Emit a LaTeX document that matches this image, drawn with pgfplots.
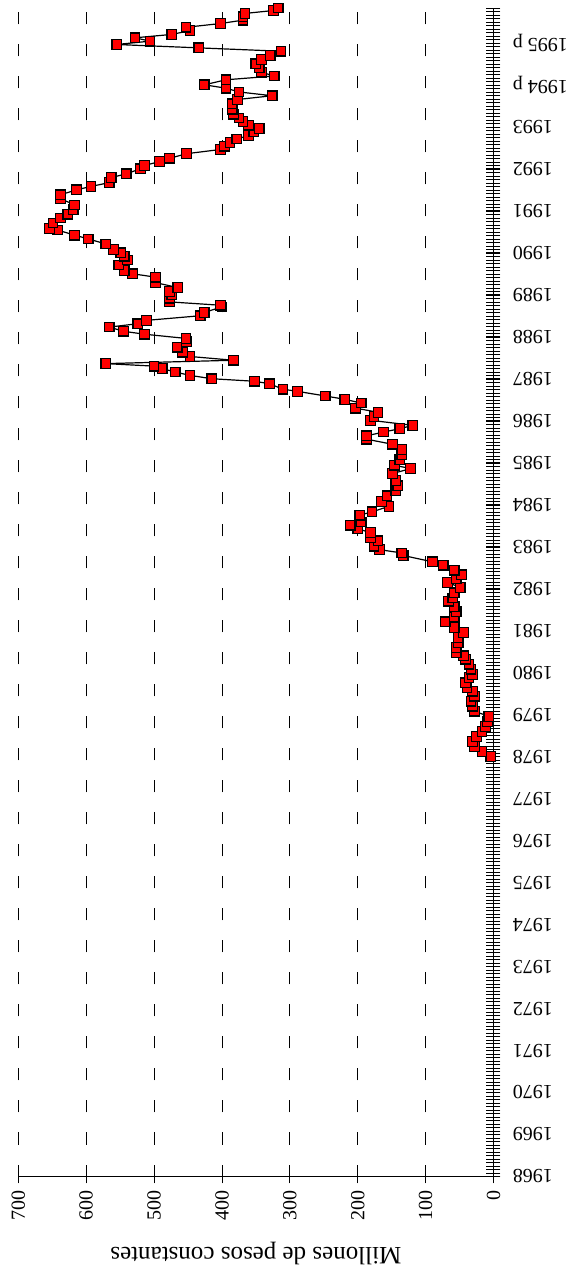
\documentclass[border=0pt]{standalone}
\usepackage{fontspec}
\setmainfont{Liberation Serif}
\usepackage{pgfplots}
\pgfplotsset{compat=1.18}

\pgfplotstableread{
t v
1978.00 4
1978.12 17
1978.24 28
1978.36 31
1978.48 25
1978.60 17
1978.72 12
1978.84 9
1978.96 7
1979.08 28
1979.20 31
1979.32 33
1979.44 28
1979.56 31
1979.64 39
1979.76 41
1979.88 36
1979.96 31
1980.08 33
1980.20 36
1980.32 41
1980.40 44
1980.48 55
1980.60 55
1980.72 52
1980.84 52
1980.96 44
1981.08 58
1981.21 71
1981.33 58
1981.45 55
1981.58 58
1981.70 66
1981.78 60
1981.90 58
1982.03 49
1982.15 68
1982.23 55
1982.33 47
1982.44 58
1982.56 74
1982.64 90
1982.79 133
1982.85 135
1982.93 168
1983.01 176
1983.14 170
1983.22 181
1983.34 181
1983.42 200
1983.51 211
1983.59 195
1983.75 197
1983.83 179
1983.96 154
1984.08 165
1984.21 157
1984.33 144
1984.45 141
1984.58 144
1984.74 149
1984.86 122
1984.94 146
1985.07 138
1985.19 135
1985.31 135
1985.44 149
1985.56 187
1985.64 187
1985.73 162
1985.81 138
1985.89 119
1986.01 181
1986.10 176
1986.20 170
1986.30 203
1986.42 195
1986.51 219
1986.59 248
1986.70 289
1986.75 310
1986.88 330
1986.94 352
1987.00 415
1987.08 447
1987.16 469
1987.24 488
1987.30 500
1987.36 571
1987.44 383
1987.53 447
1987.63 458
1987.75 466
1987.88 452
1987.96 453
1988.06 514
1988.13 545
1988.23 566
1988.31 524
1988.39 511
1988.50 432
1988.58 426
1988.71 400
1988.75 402
1988.83 477
1988.92 477
1989.00 474
1989.08 477
1989.17 465
1989.29 498
1989.42 498
1989.50 532
1989.58 544
1989.71 552
1989.83 539
1989.92 544
1990.00 549
1990.08 560
1990.21 571
1990.33 597
1990.42 617
1990.54 642
1990.58 654
1990.71 649
1990.83 638
1990.92 627
1991.03 619
1991.14 617
1991.29 638
1991.38 638
1991.50 614
1991.58 593
1991.67 566
1991.79 563
1991.88 541
1992.00 520
1992.08 514
1992.17 492
1992.25 477
1992.36 452
1992.46 402
1992.54 396
1992.63 388
1992.71 378
1992.79 361
1992.88 353
1992.96 345
1993.04 361
1993.13 369
1993.21 375
1993.30 383
1993.42 385
1993.55 385
1993.65 377
1993.74 326
1993.83 375
1993.92 394
1994.00 426
1994.12 394
1994.21 323
1994.30 342
1994.40 345
1994.50 350
1994.60 342
1994.70 329
1994.80 313
1994.88 434
1994.96 555
1995.04 506
1995.12 528
1995.20 474
1995.29 447
1995.37 453
1995.46 402
1995.54 369
1995.62 369
1995.70 366
1995.77 324
1995.83 317
}\serie

\begin{document}
\begin{tikzpicture}
\path[use as bounding box] (-9.15pt,-47.75pt) rectangle (277.35pt,588.25pt);
\begin{axis}[
    scale only axis,
    width=237.6pt, height=584.25pt,
    x dir=reverse,
    xmin=0, xmax=700, ymin=1968, ymax=1995.83,
    axis x line*=bottom,
    axis y line*=right,
    xtick={0,100,...,700},
    ytick={1968,1969,...,1995},
    yticklabels={1968,1969,1970,1971,1972,1973,1974,1975,1976,1977,1978,1979,1980,1981,1982,1983,1984,1985,1986,1987,1988,1989,1990,1991,1992,1993,1994 p,1995 p},
    minor ytick={1968,1968.083333,...,1995.9},
    tick align=center,
    major tick length=7pt, minor tick length=7pt,
    every tick/.style={black, line width=0.4pt},
    axis line style={black, line width=0.5pt},
    xmajorgrids,
    major grid style={black, line width=0.4pt, dash pattern=on 6pt off 10pt},
    /pgf/number format/assume math mode=true,
    tick label style={font=\fontsize{10}{12}\selectfont},
    xticklabel style={rotate=90, anchor=east},
    yticklabel style={rotate=180, anchor=east, inner xsep=6pt},
    xlabel={Millones de pesos constantes},
    xlabel style={yshift=-4pt, rotate=180, font=\fontsize{12.5}{15}\selectfont},
    clip=false,
]
\addplot[black, line width=0.6pt, mark=square*, mark size=2.4pt,
    mark options={fill=red, draw=black, line width=0.6pt, solid}] table[x=v, y=t] {\serie};
\end{axis}
\end{tikzpicture}
\end{document}
